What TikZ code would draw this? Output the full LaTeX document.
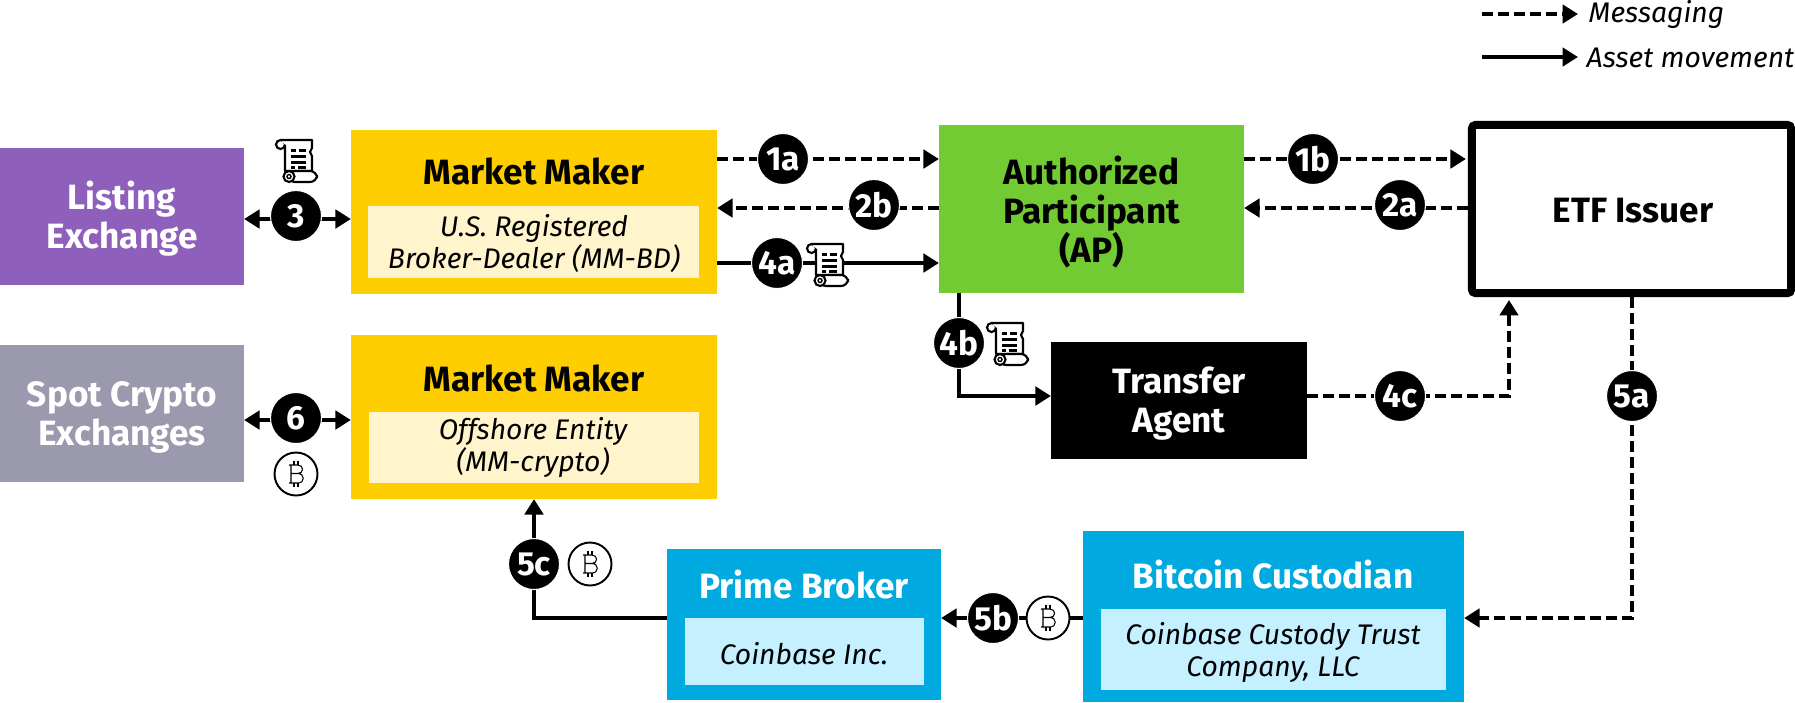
\documentclass[tikz,border=0pt]{standalone}
\usepackage{fontspec}
\setmainfont{Fira Sans}
\usetikzlibrary{arrows.meta,backgrounds}

\definecolor{lilac}{HTML}{8E60BB}
\definecolor{slate}{HTML}{9B99AD}
\definecolor{amber}{HTML}{FFCE00}
\definecolor{cream}{HTML}{FFF4CC}
\definecolor{leaf}{HTML}{73CB33}
\definecolor{azure}{HTML}{00A9E0}
\definecolor{skyish}{HTML}{C4F0FF}

\tikzset{
  box/.style={inner sep=0pt,outer sep=0pt},
  boxlabel/.style={align=center,inner sep=0pt,font=\fontsize{10}{11.1}\selectfont\bfseries},
  sublabel/.style={align=center,inner sep=0pt,text=black,font=\fontsize{8.05}{9.1}\selectfont\itshape},
  badge/.style={circle,fill=black,draw=white,line width=0.3pt,minimum size=0.51cm,inner sep=0pt,
    text=white,font=\fontsize{9.5}{10}\selectfont\bfseries},
  msg/.style={line width=1.15pt,dash pattern=on 0.11cm off 0.05cm},
  asset/.style={line width=1.15pt},
  every picture/.append style={>={Triangle[length=4.4pt,width=5.2pt]}},
  btcicon/.pic={
    \draw[line width=0.55pt,fill=white] (0,0) circle (21.5);
    \draw[line width=0.3pt] (-5,-9) -- (2,-9) .. controls (8,-9) and (8,-0.5) .. (2,-0.5) -- (-5,-0.5)
      (2,-0.5) .. controls (9,-0.5) and (9,9) .. (2,9) -- (-7,9) (-7,-9) -- (-5,-9) (-5,-9) -- (-5,9);
    \draw[line width=0.3pt] (-2,-9) -- (-2,-13) (2,-9) -- (2,-13) (-2,9) -- (-2,13) (2,9) -- (2,13);
  },
  scrollicon/.pic={
    \draw[line width=0.6pt,fill=white] (-15.5,-16.5) circle (4.5);
    \draw[line width=0.6pt,fill=white,line join=round] (-15.5,-21) -- (16,-21) -- (16,-13) -- (14,-9) -- (16,-5) -- (16,10)
      -- (-11,10) -- (-11,-16.5);
    \draw[line width=0.6pt,fill=white,rounded corners=2pt] (-8,10) -- (21,10) -- (21,21) -- (-8,21) -- cycle;
    \draw[line width=0.6pt,fill=white] (-7,15.5) circle (5.5);
    \draw[line width=0.4pt] (-7,15.5) circle (2);
    \draw[line width=0.85pt] (-5,-11) -- (0,-11) (3,-11) -- (10,-11) (-5,-5) -- (10,-5)
      (-5,1) -- (10,1) (-5,6) -- (-1,6) (2,6) -- (10,6);
  },
}

\begin{document}
\begin{tikzpicture}[x=0.01cm,y=-0.01cm]
	\useasboundingbox (0,0) rectangle (1795,702);
	% legend
	\coordinate (legmsgfrom) at (1482,14);
	\coordinate (legmsgto) at (1578,14);
	\coordinate (legassetfrom) at (1482,57);
	\coordinate (legassetto) at (1578,57);
	\draw[msg,->] (legmsgfrom) -- (legmsgto);
	\draw[asset,->] (legassetfrom) -- (legassetto);
	\node[sublabel,anchor=west] (legmsg) at (1588,15) {Messaging};
	\node[sublabel,anchor=west] (legasset) at (1586,58) {Asset movement};
	% boxes
	\node[box,fill=lilac,minimum width=2.44cm,minimum height=1.37cm] (listex) at (122,216.5) {};
	\node[box,fill=slate,minimum width=2.44cm,minimum height=1.37cm] (spotex) at (122,413.5) {};
	\node[box,fill=amber,minimum width=3.66cm,minimum height=1.64cm] (mmone) at (534,212) {};
	\node[box,fill=cream,minimum width=3.31cm,minimum height=0.72cm] (mmonesub) at (533.5,242) {};
	\node[box,fill=amber,minimum width=3.66cm,minimum height=1.64cm] (mmtwo) at (534,417) {};
	\node[box,fill=cream,minimum width=3.30cm,minimum height=0.71cm] (mmtwosub) at (534,447.5) {};
	\node[box,fill=leaf,minimum width=3.05cm,minimum height=1.68cm] (ap) at (1091.5,209) {};
	\node[box,draw=black,line width=0.08cm,rounded corners=1pt,minimum width=3.19cm,minimum height=1.68cm,
	  outer sep=0.04cm] (etf) at (1631.5,209) {};
	\node[box,fill=black,minimum width=2.56cm,minimum height=1.17cm] (agent) at (1179,400.5) {};
	\node[box,fill=azure,minimum width=3.81cm,minimum height=1.71cm] (custodian) at (1273.5,616.5) {};
	\node[box,fill=skyish,minimum width=3.45cm,minimum height=0.81cm] (custodiansub) at (1273.5,649.5) {};
	\node[box,fill=azure,minimum width=2.74cm,minimum height=1.51cm] (prime) at (804,624.5) {};
	\node[box,fill=skyish,minimum width=2.39cm,minimum height=0.67cm] (primesub) at (804.5,651.5) {};
	% box texts
	\node[boxlabel,text=white] (listextext) at (122,219) {Listing\\Exchange};
	\node[boxlabel,text=white] (spotextext) at (122,417) {Spot Crypto\\Exchanges};
	\node[boxlabel] (mmonetext) at (534,171) {Market Maker};
	\node[sublabel] (mmonesubtext) at (534,244) {U.S. Registered\\Broker-Dealer (MM-BD)};
	\node[boxlabel] (mmtwotext) at (534,378) {Market Maker};
	\node[sublabel] (mmtwosubtext) at (533,447) {Offshore Entity\\(MM-crypto)};
	\node[boxlabel] (aptext) at (1091.5,212) {Authorized\\Participant\\(AP)};
	\node[boxlabel] (etftext) at (1633,211) {ETF Issuer};
	\node[boxlabel,text=white] (agenttext) at (1179,404) {Transfer\\Agent};
	\node[boxlabel,text=white] (custodiantext) at (1273,575) {Bitcoin Custodian};
	\node[sublabel] (custodiansubtext) at (1273,652) {Coinbase Custody Trust\\Company, LLC};
	\node[boxlabel,text=white] (primetext) at (804,585) {Prime Broker};
	\node[sublabel] (primesubtext) at (804,654) {Coinbase Inc.};
	% badges
	\node[badge] (bthree) at (296,216) {3};
	\node[badge] (bsix) at (296,418) {6};
	\node[badge] (bonea) at (783,159) {1a};
	\node[badge] (bonab) at (1313,159) {1b};
	\node[badge] (btwob) at (874,205) {2b};
	\node[badge] (btwoa) at (1400,205) {2a};
	\node[badge] (bfoura) at (777,263) {4a};
	\node[badge] (bfourb) at (959,343) {4b};
	\node[badge] (bfourc) at (1400,396) {4c};
	\node[badge] (bfivea) at (1632,396) {5a};
	\node[badge] (bfiveb) at (993,618) {5b};
	\node[badge] (bfivec) at (534,564) {5c};
	% connectors
	\coordinate (rowlist) at (296,219);
	\coordinate (rowspot) at (296,420);
	\coordinate (rowtwo) at (874,208);
	\coordinate (etfport) at (1509,300);
	\begin{scope}[on background layer]
	\draw[asset,<->] (listex.east |- rowlist) -- (mmone.west |- rowlist);
	\draw[asset,<->] (spotex.east |- rowspot) -- (mmtwo.west |- rowspot);
	\draw[msg,->] (mmone.east |- bonea) -- (ap.west |- bonea);
	\draw[msg,->] (ap.west |- rowtwo) -- (mmone.east |- rowtwo);
	\draw[asset,->] (mmone.east |- bfoura) -- (ap.west |- bfoura);
	\draw[msg,->] (ap.east |- bonab) -- ([xshift=-0.02cm]etf.west |- bonab);
	\draw[msg,->] (etf.west |- rowtwo) -- (ap.east |- rowtwo);
	\draw[asset,->] (ap.south -| bfourb) |- (agent.west |- bfourc);
	\draw[msg,->] (agent.east |- bfourc) -| (etfport);
	\draw[msg,->] (etf.south -| bfivea) |- (custodian.east |- bfiveb);
	\draw[asset,->] (custodian.west |- bfiveb) -- (prime.east |- bfiveb);
	\draw[asset,->] (prime.west |- bfiveb) -| (mmtwo.south -| bfivec);
	\end{scope}
	% icons
	\pic at (296,161) {scrollicon};
	\pic at (827,265) {scrollicon};
	\pic at (1007,344) {scrollicon};
	\pic at (296,474) {btcicon};
	\pic at (590,564) {btcicon};
	\pic at (1048,618) {btcicon};
\end{tikzpicture}
\end{document}
